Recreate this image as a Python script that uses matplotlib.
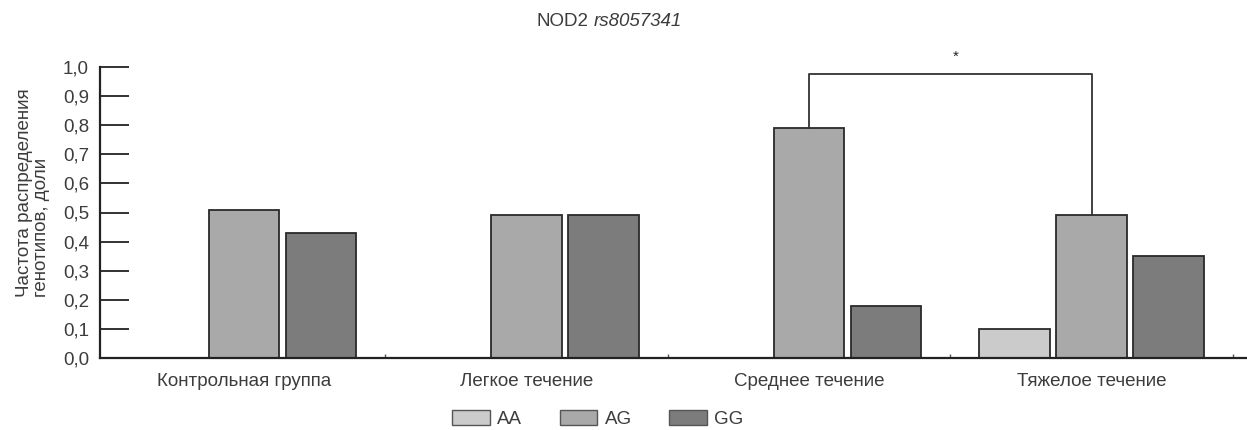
import numpy as np
import matplotlib
matplotlib.use("Agg")
import matplotlib.pyplot as plt
from matplotlib.patches import Patch

plt.rcParams["font.family"] = ["Liberation Sans", "DejaVu Sans"]

groups = ["Контрольная группа", "Легкое течение", "Среднее течение", "Тяжелое течение"]
genotypes = ["AA", "AG", "GG"]
aa = [0.0, 0.0, 0.0, 0.10]
ag = [0.51, 0.49, 0.79, 0.49]
gg = [0.43, 0.49, 0.18, 0.35]
yticks = [0.0, 0.1, 0.2, 0.3, 0.4, 0.5, 0.6, 0.7, 0.8, 0.9, 1.0]
ytick_labels = [f"{v:.1f}".replace(".", ",") for v in yticks]
# significance: moderate AG vs severe AG
sig_pair = (2, 3)
sig_level = 0.975

COLORS = ["#cbcbcb", "#a9a9a9", "#7c7c7c"]
EDGE = "#2a2a2a"
INK = "#333333"
TXT = "#3c3c3c"

fig = plt.figure(figsize=(12.47, 4.30), dpi=100)
ax = fig.add_axes([100 / 1247, 1 - 358 / 430, 1 - 100 / 1247, (358 - 67) / 430])

x = np.arange(len(groups))
w = 0.25
step = 0.272
for i, vals in enumerate([aa, ag, gg]):
    ax.bar(x + (i - 1) * step, vals, width=w, color=COLORS[i],
           edgecolor=EDGE, linewidth=1.3, zorder=2)

ax.set_xlim(-0.51, 3.55)
ax.set_ylim(0, 1.0)
ax.spines["top"].set_visible(False)
ax.spines["right"].set_visible(False)
for s in ("left", "bottom"):
    ax.spines[s].set_linewidth(1.6)
    ax.spines[s].set_color("#222222")

ax.set_yticks(yticks)
ax.set_yticklabels(ytick_labels, fontsize=13.5)
ax.tick_params(axis="y", direction="in", length=21, width=1.3, pad=8, colors="#222222",
               labelcolor=TXT)

ax.set_xticks(x)
ax.set_xticklabels(groups, fontsize=13.5, color=TXT)
ax.tick_params(axis="x", length=0, pad=11)
ax.set_xticks(np.arange(len(groups)) + 0.5, minor=True)
ax.tick_params(axis="x", which="minor", direction="in", length=3, width=1, colors="#555555")

fig.text(16 / 1247, 1 - 193 / 430, "Частота распределения\nгенотипов, доли",
         rotation=90, ha="left", va="center", fontsize=13.5, color=TXT,
         linespacing=1.0)

# significance bracket
xa, xb = sig_pair
ax.plot([xa, xa, xb, xb], [ag[xa], sig_level, sig_level, ag[xb]],
        color=INK, lw=1.3, clip_on=False, zorder=3)
ax.text((xa + xb) / 2 + 0.02, 1.035, "*", ha="center", va="center", fontsize=11,
        color="#222222", clip_on=False)

# title: "NOD2" upright + rs-number in italics
t1 = fig.text(537 / 1247, 1 - 21 / 430, "NOD2", ha="left", va="center",
              fontsize=13.5, color=TXT)
r = fig.canvas.get_renderer()
bb = t1.get_window_extent(renderer=r)
fig.text((bb.x1 + 5) / 1247, 1 - 21 / 430, "rs8057341", ha="left", va="center",
         fontsize=13.5, style="italic", color=TXT)

handles = [Patch(facecolor=c, edgecolor="#555555", linewidth=1.0) for c in COLORS]
fig.legend(handles, genotypes, loc="center", bbox_to_anchor=(598 / 1247, 1 - 419 / 430),
           ncol=3, frameon=False, fontsize=13.5, handlelength=2.0, handleheight=0.85,
           columnspacing=2.0, handletextpad=0.4, labelcolor=TXT, borderpad=0.2)

fig.savefig("out.png", dpi=100)
